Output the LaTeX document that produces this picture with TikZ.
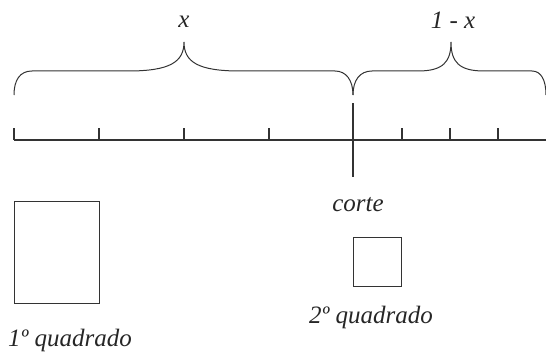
\documentclass[tikz,border=0pt]{standalone}
\usepackage{fontspec}
\setmainfont{Liberation Serif}
\begin{document}
\begin{tikzpicture}[x=1pt,y=-1pt,
  lbl/.style={anchor=base,inner sep=0pt,font=\fontsize{25}{29}\selectfont\itshape,text=black!85},
  ln/.style={draw=black!80,line width=1.4pt},
  br/.style={draw=black!80,line width=1pt},
  sq/.style={draw=black!80,line width=1.4pt,inner sep=0pt,anchor=north west}]
\useasboundingbox (0,0) rectangle (546,353);
% axis
\coordinate (L) at (14,140);
\coordinate (R) at (546,140);
\draw[ln] (L) -- (R);
\foreach \t in {14,99,184,269,402,450,498}{
  \draw[ln] (\t,128) -- (\t,140);
}
\coordinate (cT) at (353,103);
\coordinate (cB) at (353,177);
\draw[ln] (cT) -- (cB);
% braces
\draw[br] (14,95) .. controls (14,80) and (20,71) .. (32,71) -- (128,71)
  .. controls (170,71) and (184,62) .. (184,42)
  .. controls (184,62) and (198,71) .. (240,71) -- (335,71)
  .. controls (346,71) and (353,80) .. (353,95);
\draw[br] (353,95) .. controls (353,80) and (360,71) .. (372,71) -- (418,71)
  .. controls (443,71) and (451,62) .. (451,42)
  .. controls (451,62) and (459,71) .. (484,71) -- (532,71)
  .. controls (541,71) and (546,80) .. (546,95);
% labels
\node[lbl] (lx) at (184,28) {x};
\node[lbl] (l1x) at (453,29) {1 - x};
\node[lbl] (lc) at (358,211) {corte};
\node[lbl] (lq2) at (371,323) {2º quadrado};
\node[lbl] (lq1) at (70,346) {1º quadrado};
% squares
\node[sq,minimum width=85pt,minimum height=102pt] (q1) at (14,201) {};
\node[sq,minimum width=48pt,minimum height=49pt] (q2) at (353,237) {};
\end{tikzpicture}
\end{document}
